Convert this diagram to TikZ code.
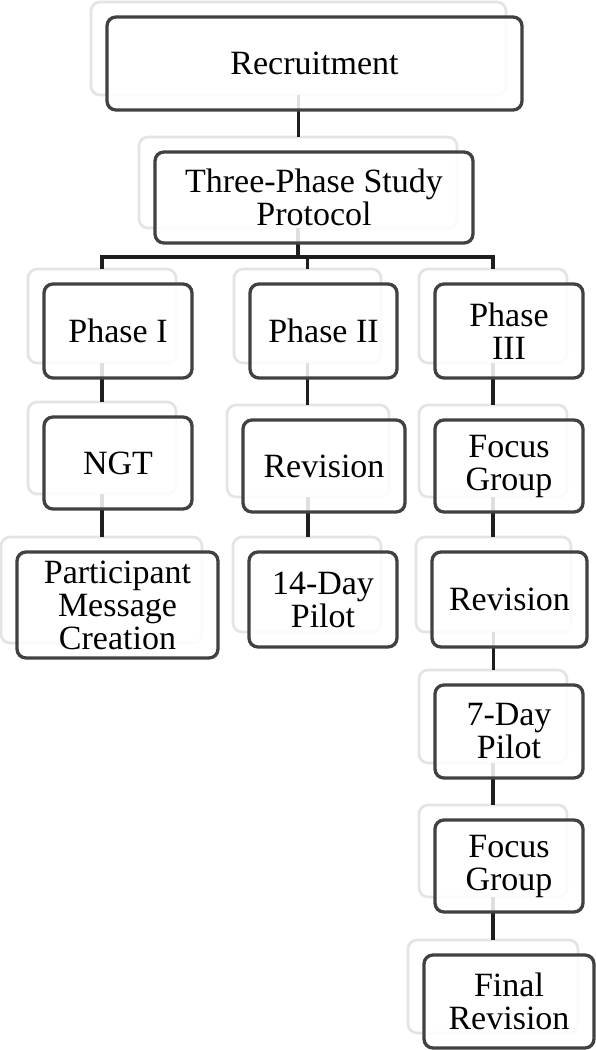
\documentclass[tikz,border=0pt]{standalone}
\usepackage{fontspec}
\setmainfont{Liberation Serif}
\definecolor{shadowgray}{HTML}{E4E4E4}
\definecolor{boxgray}{HTML}{414141}
\definecolor{linegray}{HTML}{1E1E1E}
\tikzset{
  shadowbox/.style={draw=shadowgray, line width=2.7pt, rounded corners=9pt, inner sep=0pt, outer sep=0pt},
  mainbox/.style={draw=boxgray, line width=3.3pt, rounded corners=9pt, fill=white, fill opacity=0.86, draw opacity=1, text opacity=1, inner sep=0pt, outer sep=0pt, align=center, font=\fontsize{34}{33}\selectfont},
  conn/.style={draw=linegray, line width=3.6pt}
}
\begin{document}
\begin{tikzpicture}[x=1pt,y=-1pt]
\fill[white] (0,0) rectangle (596,1050);
\useasboundingbox (0,0) rectangle (596,1050);
% shadows
\foreach \n/\x/\y/\w/\h in {rec/314.5/63.5/415/93, tps/314/197.5/318/91,
  p1/118/331/148/94, p2/323.5/331/147/94, p3/509/331/148/94,
  ngt/118/463/148/92, rev2/324/466/162/92, fg1/509/466/148/92,
  pmc/117.5/605/201/106, p14/323/599.5/148/95, rev3/509.5/599.5/155/95,
  p7/509/731.5/148/93, fg2/509/866/148/92, fin/509/1001.5/170/93}
  \node[shadowbox, minimum width=\w pt, minimum height=\h pt] (\n-s) at (\x-16,\y-15) {};
% connectors
\coordinate (bary) at (0,257);
\draw[conn] (rec-s.south) -- (rec-s.south |- tps-s.north);
\draw[conn] (tps-s.south) -- (tps-s.south |- bary);
\draw[conn] (p1-s.north) -- (p1-s.north |- bary) -- (p3-s.north |- bary) -- (p3-s.north);
\draw[conn] (p2-s.north) -- (p2-s.north |- bary);
\draw[conn] (p1-s.south) -- (p1-s.south |- ngt-s.north);
\draw[conn] (ngt-s.south) -- (ngt-s.south |- pmc-s.north);
\draw[conn] (p2-s.south) -- (p2-s.south |- rev2-s.north);
\draw[conn] (rev2-s.south) -- (rev2-s.south |- p14-s.north);
\draw[conn] (p3-s.south) -- (p3-s.south |- fg1-s.north);
\draw[conn] (fg1-s.south) -- (fg1-s.south |- rev3-s.north);
\draw[conn] (rev3-s.south) -- (rev3-s.south |- p7-s.north);
\draw[conn] (p7-s.south) -- (p7-s.south |- fg2-s.north);
\draw[conn] (fg2-s.south) -- (fg2-s.south |- fin-s.north);
% main boxes
\node[mainbox, minimum width=415pt, minimum height=93pt] (rec) at (314.5,63.5) {Recruitment};
\node[mainbox, minimum width=318pt, minimum height=91pt] (tps) at (314,197.5) {Three-Phase Study\\Protocol};
\node[mainbox, minimum width=148pt, minimum height=94pt] (p1) at (118,331) {Phase I};
\node[mainbox, minimum width=147pt, minimum height=94pt] (p2) at (323.5,331) {Phase II};
\node[mainbox, minimum width=148pt, minimum height=94pt] (p3) at (509,331) {Phase\\III};
\node[mainbox, minimum width=148pt, minimum height=92pt] (ngt) at (118,463) {NGT};
\node[mainbox, minimum width=162pt, minimum height=92pt] (rev2) at (324,466) {Revision};
\node[mainbox, minimum width=148pt, minimum height=92pt] (fg1) at (509,466) {Focus\\Group};
\node[mainbox, minimum width=201pt, minimum height=106pt] (pmc) at (117.5,605) {Participant\\Message\\Creation};
\node[mainbox, minimum width=148pt, minimum height=95pt] (p14) at (323,599.5) {14-Day\\Pilot};
\node[mainbox, minimum width=155pt, minimum height=95pt] (rev3) at (509.5,599.5) {Revision};
\node[mainbox, minimum width=148pt, minimum height=93pt] (p7) at (509,731.5) {7-Day\\Pilot};
\node[mainbox, minimum width=148pt, minimum height=92pt] (fg2) at (509,866) {Focus\\Group};
\node[mainbox, minimum width=170pt, minimum height=93pt] (fin) at (509,1001.5) {Final\\Revision};
\end{tikzpicture}
\end{document}
